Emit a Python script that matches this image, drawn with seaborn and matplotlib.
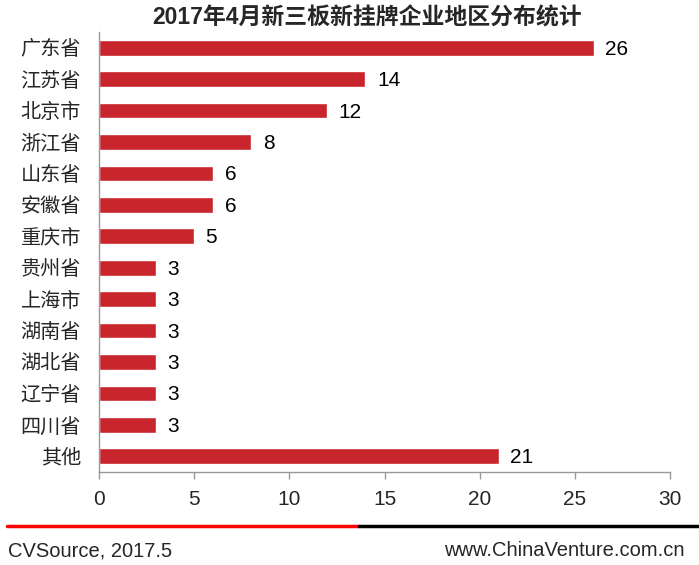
import matplotlib
matplotlib.use("Agg")
import matplotlib.pyplot as plt
import seaborn as sns
import pandas as pd

# data
regions = ["广东省", "江苏省", "北京市", "浙江省", "山东省", "安徽省", "重庆市",
           "贵州省", "上海市", "湖南省", "湖北省", "辽宁省", "四川省", "其他"]
counts = [26, 14, 12, 8, 6, 6, 5, 3, 3, 3, 3, 3, 3, 21]
xticks = [0, 5, 10, 15, 20, 25, 30]

sns.set_theme(style="white")
plt.rcParams['font.family'] = ['Liberation Sans', 'Noto Sans CJK SC', 'DejaVu Sans']

df = pd.DataFrame({"region": regions, "count": counts})

fig = plt.figure(figsize=(6.99, 5.65), dpi=100)
ax = fig.add_axes([0.1416, 0.1646, 0.817, 0.7788])

sns.barplot(data=df, x="count", y="region", color="#C9252C", saturation=1,
            width=0.5, ax=ax, orient="h")

# value labels next to each bar
for i, v in enumerate(counts):
    ax.text(v + 0.6, i + 0.05, str(v), va="center", ha="left", fontsize=15, color="black")

ax.set_xlim(0, 30)
ax.set_ylim(len(regions) - 0.5, -0.5)
ax.set_xticks(xticks)
ax.set_xlabel("")
ax.set_ylabel("")
ax.tick_params(axis="x", labelsize=15, length=5, width=1, color="#999999",
               direction="out", bottom=True, pad=8)
ax.tick_params(axis="y", labelsize=14.5, length=0, pad=13)
for s in ["top", "right"]:
    ax.spines[s].set_visible(False)
for s in ["left", "bottom"]:
    ax.spines[s].set_color("#999999")
    ax.spines[s].set_linewidth(1)

fig.text(0.525, 0.968, "2017年4月新三板新挂牌企业地区分布统计", ha="center", va="center",
         fontsize=16.5, fontweight="bold")

# footer rule: red then black
fig.add_artist(plt.Line2D([0.01, 0.513], [0.069, 0.069], color="#FF0000", lw=2.5,
                          transform=fig.transFigure))
fig.add_artist(plt.Line2D([0.513, 1.0], [0.069, 0.069], color="black", lw=2.5,
                          transform=fig.transFigure))
fig.text(0.012, 0.025, "CVSource, 2017.5", ha="left", va="center", fontsize=14.5)
fig.text(0.98, 0.025, "www.ChinaVenture.com.cn", ha="right", va="center", fontsize=14.5)

fig.savefig("out.png", dpi=100)
